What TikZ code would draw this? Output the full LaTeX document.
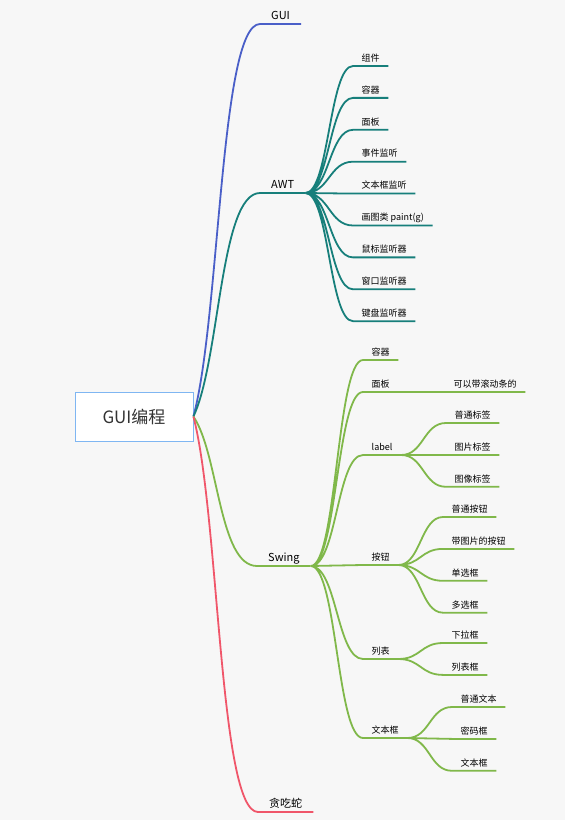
\documentclass[tikz,border=0pt]{standalone}
\usepackage{fontspec}
\setmainfont{Noto Sans CJK SC}
\usepackage{xcolor}
\usepackage{tikz}
\usetikzlibrary{positioning,calc}
\definecolor{guiblue}{HTML}{4A5FC8}
\definecolor{awtteal}{HTML}{177F7B}
\definecolor{swinggreen}{HTML}{80B84A}
\definecolor{snakered}{HTML}{F0566A}
\definecolor{rootline}{HTML}{7FB6F2}
\definecolor{paper}{HTML}{F7F7F7}
\tikzstyle{root}=[rectangle, draw=rootline, fill=white, line width=0.8bp, minimum width=118bp,
        minimum height=49bp, font=\fontsize{17bp}{20bp}\selectfont, text=black!80]
\tikzstyle{topic}=[inner xsep=11bp, inner ysep=2bp, text height=8bp, text depth=2.5bp,
        anchor=south west, font=\fontsize{11bp}{13bp}\selectfont, text=black]
\tikzstyle{leaf}=[inner xsep=8.5bp, inner ysep=2.5bp, text height=7bp, text depth=2bp,
        anchor=south west, font=\fontsize{9bp}{11bp}\selectfont, text=black]
\tikzstyle{trunk}=[line width=1.8bp, to path={let \p1=(\tikztostart), \p2=(\tikztotarget) in
        .. controls ({0.6*\x1+0.4*\x2},{0.75*\y1+0.25*\y2}) and ({0.6*\x1+0.4*\x2},\y2) .. (\tikztotarget)}]
\tikzstyle{twig}=[line width=1.8bp, to path={let \p1=(\tikztostart), \p2=(\tikztotarget) in
        .. controls ({0.5*\x1+0.5*\x2},\y1) and ({0.5*\x1+0.5*\x2},\y2) .. (\tikztotarget)}]

\begin{document}
\begin{tikzpicture}[x=1bp, y=-1bp, node distance=17.5bp]
        \fill[paper] (0,0) rectangle (565,820);
        \node (Root) [root] at (134,416.5) {GUI编程};
        \node (GUI) [topic] at (260,24) {GUI};
        \node (AWT) [topic] at (260,193) {AWT};
        \node (Swing) [topic] at (257,566) {Swing};
        \node (Snake) [topic] at (258,812) {贪吃蛇};

        \node (Component) [leaf] at (353,66) {组件};
        \node (Container) [leaf, below=of Component.south west, anchor=north west] {容器};
        \node (Panel) [leaf, below=of Container.south west, anchor=north west] {面板};
        \node (Event) [leaf, below=of Panel.south west, anchor=north west] {事件监听};
        \node (TextListen) [leaf, below=of Event.south west, anchor=north west] {文本框监听};
        \node (Paint) [leaf, below=of TextListen.south west, anchor=north west] {画图类 paint(g)};
        \node (Mouse) [leaf, below=of Paint.south west, anchor=north west] {鼠标监听器};
        \node (Window) [leaf, below=of Mouse.south west, anchor=north west] {窗口监听器};
        \node (Keyboard) [leaf, below=of Window.south west, anchor=north west] {键盘监听器};

        \node (SContainer) [leaf] at (363,360) {容器};
        \node (SPanel) [leaf] at (363,392) {面板};
        \node (Scroll) [leaf] at (445,392) {可以带滚动条的};
        \node (Label) [leaf] at (363,455) {label};
        \node (PlainLabel) [leaf] at (446,423) {普通标签};
        \node (PicLabel) [leaf, below=of PlainLabel.south west, anchor=north west] {图片标签};
        \node (ImgLabel) [leaf, below=of PicLabel.south west, anchor=north west] {图像标签};
        \node (Button) [leaf] at (363,565) {按钮};
        \node (PlainButton) [leaf] at (443,517) {普通按钮};
        \node (PicButton) [leaf, below=of PlainButton.south west, anchor=north west] {带图片的按钮};
        \node (Radio) [leaf, below=of PicButton.south west, anchor=north west] {单选框};
        \node (Check) [leaf, below=of Radio.south west, anchor=north west] {多选框};
        \node (List) [leaf] at (363,659) {列表};
        \node (Combo) [leaf] at (443,643) {下拉框};
        \node (ListBox) [leaf, below=of Combo.south west, anchor=north west] {列表框};
        \node (TextBox) [leaf] at (363,738) {文本框};
        \node (PlainText) [leaf] at (452,707) {普通文本};
        \node (Password) [leaf, below=of PlainText.south west, anchor=north west] {密码框};
        \node (TextArea) [leaf, below=of Password.south west, anchor=north west] {文本框};

        \draw[trunk, guiblue] (Root.east) to (GUI.south west) -- (GUI.south east);
        \draw[trunk, awtteal] (Root.east) to (AWT.south west) -- (AWT.south east);
        \draw[trunk, swinggreen] (Root.east) to (Swing.south west) -- (Swing.south east);
        \draw[trunk, snakered] (Root.east) to (Snake.south west) -- (Snake.south east);

        \draw[twig, awtteal] (AWT.south east) to (Component.south west) -- (Component.south east)
                (AWT.south east) to (Container.south west) -- (Container.south east)
                (AWT.south east) to (Panel.south west) -- (Panel.south east)
                (AWT.south east) to (Event.south west) -- (Event.south east)
                (AWT.south east) to (TextListen.south west) -- (TextListen.south east)
                (AWT.south east) to (Paint.south west) -- (Paint.south east)
                (AWT.south east) to (Mouse.south west) -- (Mouse.south east)
                (AWT.south east) to (Window.south west) -- (Window.south east)
                (AWT.south east) to (Keyboard.south west) -- (Keyboard.south east);

        \draw[twig, swinggreen] (Swing.south east) to (SContainer.south west) -- (SContainer.south east)
                (Swing.south east) to (SPanel.south west) -- (SPanel.south east)
                (Swing.south east) to (Label.south west) -- (Label.south east)
                (Swing.south east) to (Button.south west) -- (Button.south east)
                (Swing.south east) to (List.south west) -- (List.south east)
                (Swing.south east) to (TextBox.south west) -- (TextBox.south east)
                (SPanel.south east) to (Scroll.south west) -- (Scroll.south east)
                (Label.south east) to (PlainLabel.south west) -- (PlainLabel.south east)
                (Label.south east) to (PicLabel.south west) -- (PicLabel.south east)
                (Label.south east) to (ImgLabel.south west) -- (ImgLabel.south east)
                (Button.south east) to (PlainButton.south west) -- (PlainButton.south east)
                (Button.south east) to (PicButton.south west) -- (PicButton.south east)
                (Button.south east) to (Radio.south west) -- (Radio.south east)
                (Button.south east) to (Check.south west) -- (Check.south east)
                (List.south east) to (Combo.south west) -- (Combo.south east)
                (List.south east) to (ListBox.south west) -- (ListBox.south east)
                (TextBox.south east) to (PlainText.south west) -- (PlainText.south east)
                (TextBox.south east) to (Password.south west) -- (Password.south east)
                (TextBox.south east) to (TextArea.south west) -- (TextArea.south east);
\end{tikzpicture}
\end{document}
